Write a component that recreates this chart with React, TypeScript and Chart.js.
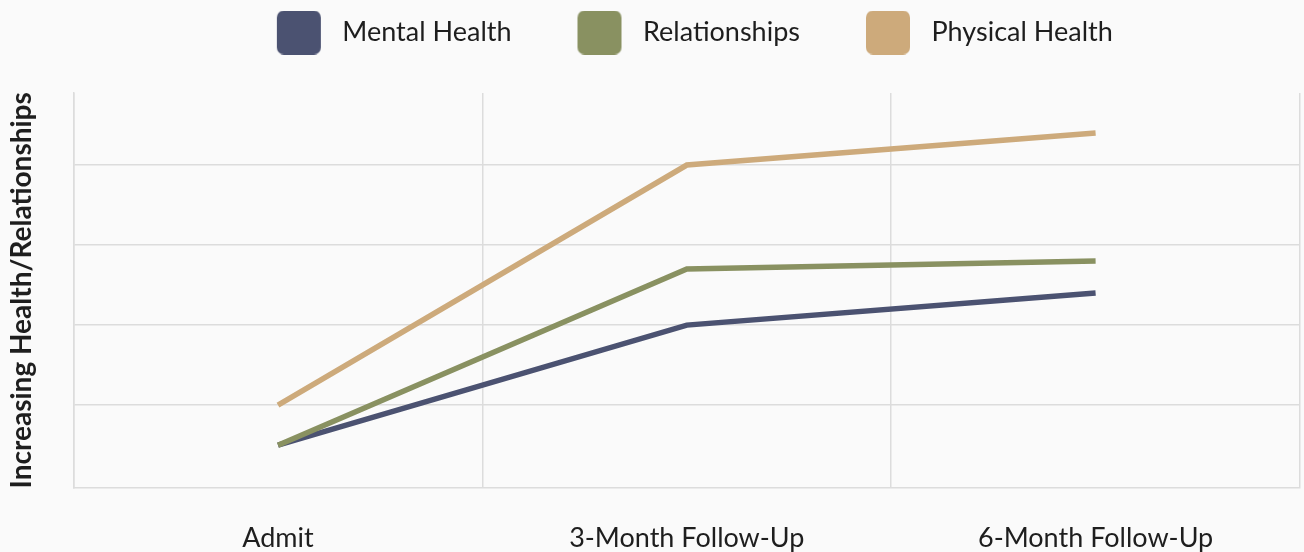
import { useEffect, useRef } from 'react';
import { Chart, registerables } from 'chart.js';

Chart.register(...registerables);

// Time points on the x axis
const categories = ['Admit', '3-Month Follow-Up', '6-Month Follow-Up'];

// Self-reported scores per time point
const mentalHealth = [0.5, 2.0, 2.4];
const relationships = [0.5, 2.7, 2.8];
const physicalHealth = [1.0, 4.0, 4.4];

// Horizontal guide lines (the axis has no printed numbers)
const gridTicks = [1, 2, 3, 4];

const seriesLabels = ['Mental Health', 'Relationships', 'Physical Health'];
const seriesColors = ['#4b5271', '#899161', '#cdaa7b'];

const gridColor = '#dcdcdc';
const textColor = '#1e1e1e';
const fontFamily = 'Lato, "Noto Sans", sans-serif';

// The canvas is a little larger than the page: shifted up so the legend row
// sits close to the top edge, and extended below so the x-axis labels
// (whose box reserves tick padding on both sides) land near the bottom edge.
const canvasShiftTop = 31;
const canvasExtraBottom = 36;
// Extra room between the legend row and the plot area
const legendGap = 37;

// Rounded square swatch used as the legend marker
function makeSwatch(color: string): HTMLCanvasElement {
  const c = document.createElement('canvas');
  c.width = 68;
  c.height = 44;
  const ctx = c.getContext('2d')!;
  ctx.fillStyle = color;
  ctx.beginPath();
  ctx.roundRect(16, 0, 44, 44, 7);
  ctx.fill();
  return c;
}

const legendSpacing = {
  id: 'legendSpacing',
  beforeInit(chart: any) {
    const legend = chart.legend;
    if (!legend) return;
    const originalFit = legend.fit;
    legend.fit = function fit(this: any) {
      originalFit.call(this);
      this.height += legendGap;
    };
  },
};

export default function App() {
  const canvasRef = useRef<HTMLCanvasElement | null>(null);

  useEffect(() => {
    if (!canvasRef.current) return;
    const swatches = seriesColors.map(makeSwatch);
    const seriesData = [mentalHealth, relationships, physicalHealth];
    const drawOrder = [3, 2, 1];

    const chart = new Chart(canvasRef.current, {
      type: 'line',
      data: {
        labels: categories,
        datasets: seriesData.map((values, i) => ({
          label: seriesLabels[i],
          data: values,
          borderColor: seriesColors[i],
          backgroundColor: seriesColors[i],
          borderWidth: 5.5,
          borderCapStyle: 'butt' as const,
          pointRadius: 0,
          pointHoverRadius: 0,
          tension: 0,
          fill: false,
          order: drawOrder[i],
        })),
      },
      options: {
        animation: false,
        responsive: true,
        maintainAspectRatio: false,
        layout: { padding: { top: 0, left: 0, right: 4, bottom: 0 } },
        plugins: {
          tooltip: { enabled: false },
          legend: {
            position: 'top',
            fullSize: false,
            labels: {
              usePointStyle: true,
              pointStyleWidth: 68,
              padding: 50,
              color: textColor,
              font: { family: fontFamily, size: 27 },
              sort: (a: any, b: any) => a.datasetIndex - b.datasetIndex,
              generateLabels: (ch: Chart) =>
                Chart.defaults.plugins.legend.labels
                  .generateLabels(ch)
                  .map((item: any) => ({ ...item, pointStyle: swatches[item.datasetIndex] })),
            },
          },
        },
        scales: {
          x: {
            offset: true,
            grid: {
              offset: true,
              drawTicks: false,
              lineWidth: 1.5,
              color: (ctx: any) => (ctx.index >= categories.length ? 'rgba(0,0,0,0)' : gridColor),
            },
            border: { display: true, color: gridColor, width: 1.5 },
            ticks: {
              padding: 34,
              color: textColor,
              font: { family: fontFamily, size: 27 },
              maxRotation: 0,
            },
          },
          y: {
            min: -0.03,
            max: 4.9,
            afterBuildTicks: (scale: any) => {
              scale.ticks = gridTicks.map((v) => ({ value: v }));
            },
            ticks: { display: false },
            grid: { color: gridColor, drawTicks: false, lineWidth: 1.5 },
            border: { display: true, color: gridColor, width: 1.5 },
            title: {
              display: true,
              text: 'Increasing Health/Relationships',
              color: textColor,
              font: { family: fontFamily, size: 28, weight: 'bold' },
              padding: { top: 5, bottom: 35 },
            },
          },
        },
      },
      plugins: [legendSpacing],
    } as any);

    return () => chart.destroy();
  }, []);

  return (
    <div
      style={{
        position: 'fixed',
        left: 0,
        top: 0,
        width: 1304,
        height: 552,
        overflow: 'hidden',
        background: '#fafafa',
      }}
    >
      <div
        style={{
          position: 'absolute',
          left: 0,
          top: -canvasShiftTop,
          width: 1304,
          height: 552 + canvasShiftTop + canvasExtraBottom,
        }}
      >
        <canvas ref={canvasRef} />
      </div>
    </div>
  );
}
